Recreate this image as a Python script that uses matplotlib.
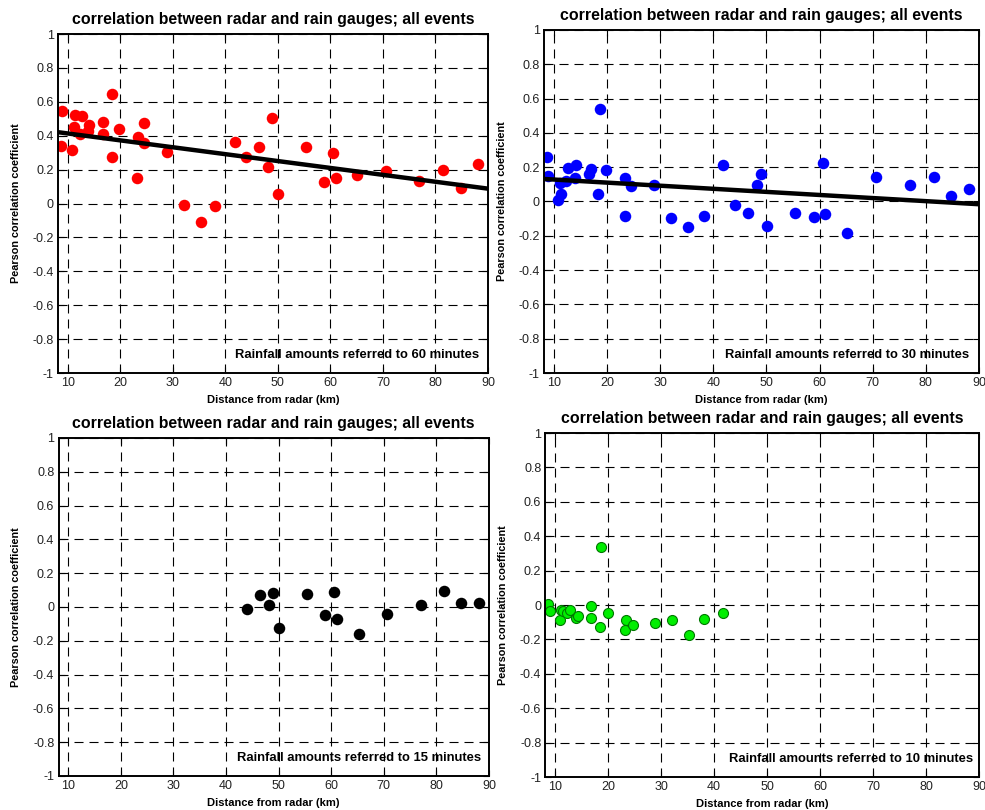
import numpy as np
import matplotlib
matplotlib.use('Agg')
import matplotlib.pyplot as plt

plt.rcParams['font.family'] = ['Liberation Sans', 'DejaVu Sans']
plt.rcParams['lines.scale_dashes'] = False

# 60 minutes
dist60 = [8.86, 8.73, 11.4, 11.2, 10.76, 12.67, 12.35, 14.13, 13.9, 16.67, 16.8, 18.5,
          18.4, 19.85, 23.3, 24.5, 24.5, 23.15, 28.9, 32.1, 35.35, 38.1, 41.8, 44.0,
          46.4, 48.06, 48.9, 49.96, 55.3, 58.86, 60.57, 61.14, 65.1, 70.6, 76.96,
          81.5, 84.8, 88.1]
corr60 = [0.546, 0.338, 0.525, 0.451, 0.314, 0.515, 0.41, 0.464, 0.425, 0.482, 0.408, 0.644,
          0.273, 0.441, 0.394, 0.476, 0.357, 0.150, 0.302, -0.008, -0.111, -0.014, 0.361, 0.277,
          0.332, 0.215, 0.503, 0.059, 0.336, 0.127, 0.297, 0.148, 0.168, 0.189, 0.133,
          0.199, 0.094, 0.232]
fit60 = [-0.00407, 0.454]   # slope, intercept

# 30 minutes
dist30 = [8.75, 8.87, 10.8, 11.3, 11.2, 12.3, 12.7, 14.0, 14.2, 16.65, 16.9, 18.3, 18.6,
          19.9, 23.4, 24.55, 28.9, 41.8, 48.2, 48.9, 60.6, 70.7, 77.1, 81.6, 84.8, 88.1,
          23.3, 32.1, 35.3, 38.2, 44.0, 46.5, 50.1, 55.3, 58.9, 61.1, 65.1]
corr30 = [0.259, 0.146, 0.010, 0.041, 0.105, 0.121, 0.197, 0.136, 0.212, 0.158, 0.187, 0.045, 0.540,
          0.181, 0.138, 0.092, 0.096, 0.212, 0.096, 0.160, 0.226, 0.144, 0.097, 0.144, 0.031, 0.072,
          -0.086, -0.096, -0.150, -0.082, -0.018, -0.068, -0.141, -0.068, -0.088, -0.074, -0.186]
fit30 = [-0.0018, 0.146]

# 15 minutes
dist15 = [43.99, 46.5, 48.2, 48.9, 50.06, 55.4, 58.9, 60.6, 61.1, 65.2, 70.6, 77.0, 81.5, 84.7, 88.1]
corr15 = [-0.010, 0.069, 0.014, 0.085, -0.126, 0.079, -0.049, 0.091, -0.069, -0.161, -0.043,
          0.014, 0.096, 0.026, 0.022]

# 10 minutes
dist10 = [8.69, 8.94, 10.8, 11.06, 11.37, 12.3, 12.75, 14.0, 14.2, 16.7, 16.68, 18.36, 18.55,
          19.86, 23.35, 23.2, 24.6, 28.9, 32.1, 35.3, 38.1, 41.7]
corr10 = [0.004, -0.037, -0.089, -0.031, -0.037, -0.047, -0.029, -0.078, -0.064, -0.004, -0.078,
          -0.130, 0.337, -0.048, -0.089, -0.143, -0.114, -0.103, -0.089, -0.172, -0.083, -0.045]

title = 'correlation between radar and rain gauges; all events'
xticks = [10, 20, 30, 40, 50, 60, 70, 80, 90]
yticks = [-1, -0.8, -0.6, -0.4, -0.2, 0, 0.2, 0.4, 0.6, 0.8, 1]
ytick_labels = ['-1', '-0.8', '-0.6', '-0.4', '-0.2', '0', '0.2', '0.4', '0.6', '0.8', '1']
xmin, xmax = 8.15, 90


def style_axes(ax, minutes, text_x):
    ax.set_xlim(xmin, xmax)
    ax.set_ylim(-1, 1)
    ax.set_xticks(xticks)
    ax.set_xticklabels([str(t) for t in xticks])
    ax.set_yticks(yticks)
    ax.set_yticklabels(ytick_labels)
    ax.tick_params(direction='in', length=4, width=0.8, top=True, right=True,
                   labelsize=9, labelcolor='#222222', pad=3)
    ax.grid(True, color='k', linewidth=0.8, linestyle=(0, (6.5, 4.3)))
    ax.set_axisbelow(True)
    for s in ax.spines.values():
        s.set_linewidth(1.4)
    ax.set_title(title, fontsize=11.4, fontweight='bold', pad=7)
    ax.set_xlabel('Distance from radar (km)', fontsize=8, fontweight='bold', labelpad=4)
    ax.set_ylabel('Pearson correlation coefficient', fontsize=7.8, fontweight='bold')
    ax.yaxis.set_label_coords(-0.086, 0.5)
    ax.text(text_x, -0.895, 'Rainfall amounts referred to %d minutes' % minutes,
            ha='right', va='center', fontsize=9.4, fontweight='bold')


fig = plt.figure(figsize=(9.85, 8.1), dpi=100)
ax1 = fig.add_axes([0.0589, 0.5395, 0.4365, 0.4185])
ax2 = fig.add_axes([0.5523, 0.5395, 0.4416, 0.4235])
ax3 = fig.add_axes([0.0594, 0.042, 0.437, 0.4173])
ax4 = fig.add_axes([0.5538, 0.0407, 0.4401, 0.4247])

xfit = np.array([xmin, xmax])

ax1.plot(dist60, corr60, 'o', color='#ff0000', markersize=8.3, markeredgewidth=0)
ax1.plot(xfit, fit60[0] * xfit + fit60[1], color='k', linewidth=3.2)
style_axes(ax1, 60, 88.4)

ax2.plot(dist30, corr30, 'o', color='#0000ff', markersize=8.3, markeredgewidth=0)
ax2.plot(xfit, fit30[0] * xfit + fit30[1], color='k', linewidth=3.2)
style_axes(ax2, 30, 88.1)

ax3.plot(dist15, corr15, 'o', color='k', markersize=8.3, markeredgewidth=0)
style_axes(ax3, 15, 88.5)

ax4.plot(dist10, corr10, 'o', markerfacecolor='#00ee00', markeredgecolor='#007700',
         markersize=7.2, markeredgewidth=0.8)
style_axes(ax4, 10, 88.8)

fig.savefig('out.png', dpi=100)
